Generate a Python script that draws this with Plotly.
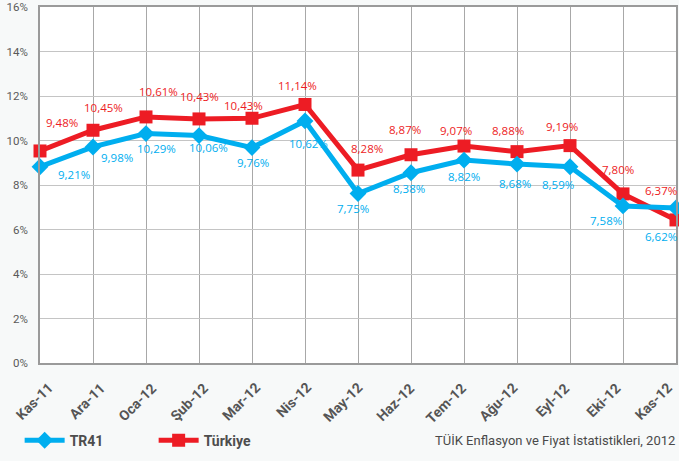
import plotly.graph_objects as go

# ---- data ----
months = ["Kas-11", "Ara-11", "Oca-12", "Şub-12", "Mar-12", "Nis-12", "May-12",
          "Haz-12", "Tem-12", "Ağu-12", "Eyl-12", "Eki-12", "Kas-12"]
# plotted positions
tr41_values = [8.82, 9.71, 10.31, 10.22, 9.68, 10.88, 7.62, 8.55, 9.12, 8.94, 8.82, 7.06, 6.97]
turkiye_values = [9.53, 10.46, 11.06, 10.97, 11.00, 11.62, 8.67, 9.36, 9.75, 9.50, 9.77, 7.60, 6.43]
# data labels as printed
tr41_labels = [9.21, 9.98, 10.29, 10.06, 9.76, 10.62, 7.75, 8.38, 8.82, 8.68, 8.59, 7.58, 6.62]
turkiye_labels = [9.48, 10.45, 10.61, 10.43, 10.43, 11.14, 8.28, 8.87, 9.07, 8.88, 9.19, 7.80, 6.37]
y_ticks = [0, 2, 4, 6, 8, 10, 12, 14, 16]
source_text = "TÜİK Enflasyon ve Fiyat İstatistikleri, 2012"

# ---- label pixel offsets (style) ----
trk_shift = [(22, 28), (10, 23), (12, 25), (0, 22), (-9, 13), (-8, 19), (9, 22),
             (-6, 25), (-8, 16), (-9, 21), (-8, 19), (-5, 24), (-15, 29)]
tr41_shift = [(34, -8), (24, -11), (10, -15), (9, -12), (1, -15), (3, -23), (-5, -15),
              (-2, -16), (0, -16), (-2, -19), (-12, -18), (-17, -15), (-15, -29)]

RED = "#ed1c24"
BLUE = "#00aeef"
COND = "Roboto, sans-serif"
LABEL_FONT = "Open Sans, sans-serif"

def fmt(v):
    return f"{v:.2f}".replace(".", ",") + "%"

fig = go.Figure()
fig.add_trace(go.Scatter(
    x=months, y=turkiye_values, name="Türkiye", mode="lines+markers",
    line=dict(color=RED, width=5),
    marker=dict(symbol="square", size=13, color=RED),
    cliponaxis=False, legendrank=2,
))
fig.add_trace(go.Scatter(
    x=months, y=tr41_values, name="TR41", mode="lines+markers",
    line=dict(color=BLUE, width=5),
    marker=dict(symbol="diamond", size=13, color=BLUE),
    cliponaxis=False, legendrank=1,
))

for m, v, lab, (dx, dy) in zip(months, turkiye_values, turkiye_labels, trk_shift):
    fig.add_annotation(x=m, y=v, text=fmt(lab), showarrow=False, xshift=dx, yshift=dy,
                       font=dict(family=LABEL_FONT, size=11.5, color=RED))
for m, v, lab, (dx, dy) in zip(months, tr41_values, tr41_labels, tr41_shift):
    fig.add_annotation(x=m, y=v, text=fmt(lab), showarrow=False, xshift=dx, yshift=dy,
                       font=dict(family=LABEL_FONT, size=11.5, color=BLUE))

# rotated category labels (drawn as annotations so each can sit like the original)
for i, m in enumerate(months):
    fig.add_annotation(x=m, y=0, yref="y", text=m, showarrow=False, textangle=-45,
                       xanchor="right", yanchor="top", xshift=19 - 1.4 * i, yshift=-14,
                       font=dict(family=COND, size=14, color="#555555", weight="bold"))

fig.add_annotation(xref="paper", yref="paper", x=1.0016, y=-0.218, xanchor="right",
                   yanchor="middle", text=source_text, showarrow=False,
                   font=dict(family=COND, size=13, color="#4a4a4a"))

fig.update_layout(
    width=679, height=461,
    margin=dict(l=40, r=3, t=7, b=98),
    paper_bgcolor="#f7f9f9",
    plot_bgcolor="#ffffff",
    showlegend=True,
    legend=dict(orientation="h", x=-0.032, y=-0.218, xanchor="left", yanchor="middle",
                entrywidth=79, entrywidthmode="pixels", bgcolor="rgba(0,0,0,0)",
                font=dict(family=COND, size=14, color="#4d4d4d", weight="bold"),
                itemwidth=40),
    xaxis=dict(range=[0, 12], showgrid=True, gridcolor="#a8a8a8", gridwidth=1,
               showline=True, linecolor="#9a9a9a", linewidth=1.5, mirror=True,
               showticklabels=False, automargin=False, ticks="", fixedrange=True),
    yaxis=dict(range=[0, 16], tickvals=y_ticks, ticktext=[f"{t}%" for t in y_ticks],
               showgrid=True, gridcolor="#c4c4c4", gridwidth=1,
               showline=True, linecolor="#9a9a9a", linewidth=1.5, mirror=True,
               zeroline=False, ticks="", ticklabelstandoff=8, automargin=False,
               ticklabeloverflow="allow", fixedrange=True,
               tickfont=dict(family=COND, size=11.5, color="#5a5a5a")),
)

fig.write_html("out.html",
               config={"displayModeBar": False},
               post_script="document.body.style.margin='0';"
                           "document.body.style.overflow='hidden';"
                           "document.body.style.background='#f7f9f9';")
